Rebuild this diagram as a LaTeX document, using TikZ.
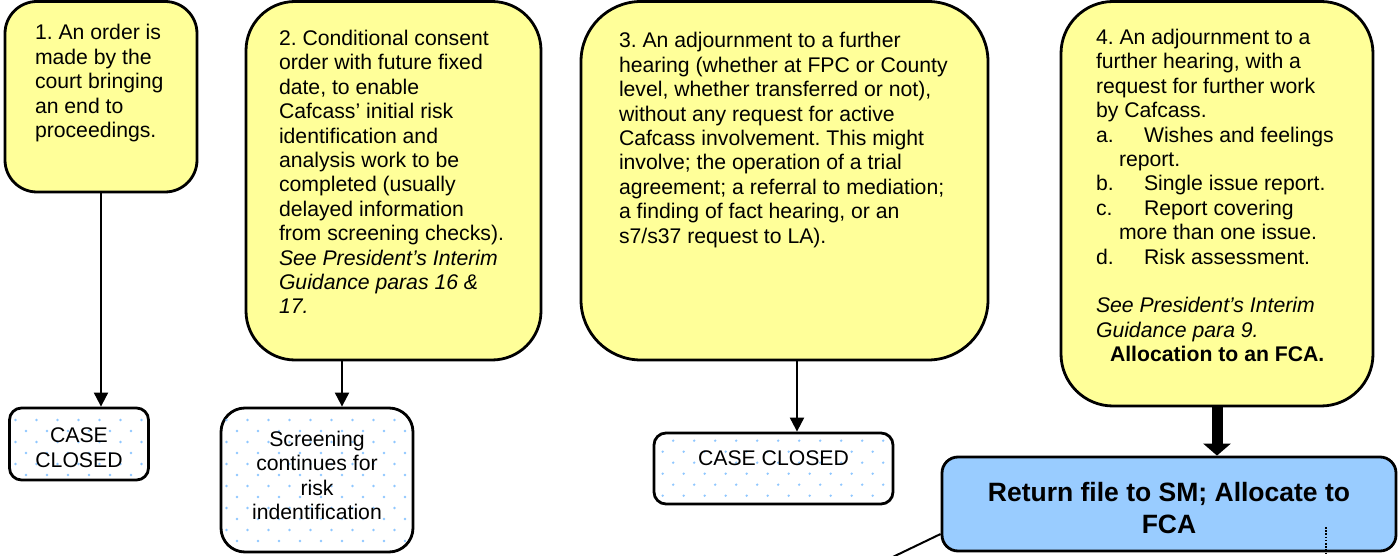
\documentclass[tikz,border=0pt]{standalone}
\usepackage{fontspec}
\setmainfont{Liberation Sans}
\usetikzlibrary{arrows.meta}
\frenchspacing
\definecolor{boxyellow}{HTML}{FFFF99}
\definecolor{boxblue}{HTML}{99CCFF}
\definecolor{dotblue}{HTML}{8FC7FF}
\newcommand\bodyfont{\fontsize{21.2}{24.4}\selectfont}
\newcommand\bluefont{\fontsize{26.5}{32}\selectfont\bfseries}
\newcommand\mydotgrid[5]{%
  \begin{scope}
    \clip[rounded corners=9pt] ([shift={(4,-4)}]#1.south west) rectangle ([shift={(-4,4)}]#1.north east);
    \foreach \j in {0,...,#5} {
      \foreach \i in {0,...,#4} {
        \fill[dotblue] ({#2+21*\i+10.5*mod(\j,2)},{#3+11*\j}) circle (1.3pt);
      }
    }
  \end{scope}}
\tikzset{
  ybox/.style={draw, line width=2.8pt, fill=boxyellow, inner sep=0pt},
  wbox/.style={draw, line width=2.8pt, fill=white, inner sep=0pt},
  bbox/.style={draw, line width=2.8pt, fill=boxblue, inner sep=0pt},
  txt/.style={inner sep=0pt, outer sep=0pt, font=\bodyfont, align=left, anchor=north west},
  ctxt/.style={inner sep=0pt, outer sep=0pt, font=\bodyfont, align=center, anchor=north},
  btxt/.style={inner sep=0pt, outer sep=0pt, font=\bluefont, align=center, anchor=north},
  tharrow/.style={line width=2pt, -{Triangle[width=14pt,length=14pt]}},
  thkarrow/.style={line width=11pt, -{Triangle[width=27pt,length=12pt]}},
  plainline/.style={line width=2pt},
  dotline/.style={line width=1.6pt, dash pattern=on 1.6pt off 1.6pt}
}
\begin{document}
\begin{tikzpicture}[x=1pt,y=-1pt]
\useasboundingbox (0,0) rectangle (1398,556);
\clip (0,0) rectangle (1398,556);
\fill[white] (0,0) rectangle (1398,556);

% yellow boxes
\node[ybox, minimum width=192pt, minimum height=190.5pt, rounded corners=32pt] (b1) at (101,96.75) {};
\node[ybox, minimum width=295pt, minimum height=358.5pt, rounded corners=49pt] (b2) at (393.5,180.75) {};
\node[ybox, minimum width=407pt, minimum height=358.5pt, rounded corners=60pt] (b3) at (784.5,180.75) {};
\node[ybox, minimum width=312pt, minimum height=404.5pt, rounded corners=52pt] (b4) at (1217,203.75) {};

% lower boxes
\node[wbox, minimum width=139pt, minimum height=72pt, rounded corners=12pt] (cc1) at (79,444) {};
\mydotgrid{cc1}{5}{409}{8}{7}
\node[wbox, minimum width=192pt, minimum height=144pt, rounded corners=24pt] (scr) at (317,480) {};
\mydotgrid{scr}{216}{409}{10}{13}
\node[wbox, minimum width=239pt, minimum height=71pt, rounded corners=12pt] (cc3) at (773.5,468.5) {};
\mydotgrid{cc3}{641.7}{429.7}{13}{7}
\node[bbox, minimum width=454pt, minimum height=94pt, rounded corners=16pt] (blue) at (1169,504) {};

% texts
\node[txt] (t1) at (35,22.9) {\strut 1. An order is\\made by the\\court bringing\\an end to\\proceedings.};
\node[txt] (t2) at (279,28.4) {\strut 2. Conditional consent\\order with future fixed\\date, to enable\\Cafcass’ initial risk\\identification and\\analysis work to be\\completed (usually\\delayed information\\from screening checks).\\\textit{See President’s Interim}\\\textit{Guidance paras 16 \&}\\\textit{17.}};
\node[txt] (t3) at (619,30.9) {\strut 3. An adjournment to a further\\hearing (whether at FPC or County\\level, whether transferred or not),\\without any request for active\\Cafcass involvement. This might\\involve; the operation of a trial\\agreement; a referral to mediation;\\a finding of fact hearing, or an\\s7/s37 request to LA).};
\node[txt] (t4) at (1096,27.4) {\strut 4. An adjournment to a\\further hearing, with a\\request for further work\\by Cafcass.\\\makebox[48pt][l]{a.}Wishes and feelings\\\hspace*{23pt}report.\\\makebox[48pt][l]{b.}Single issue report.\\\makebox[48pt][l]{c.}Report covering\\\hspace*{23pt}more than one issue.\\\makebox[48pt][l]{d.}Risk assessment.\\\mbox{}\\\textit{See President’s Interim}\\\textit{Guidance para 9.}\\\hspace*{14pt}\textbf{Allocation to an FCA.}};

\node[ctxt] (tc1) at (79,425.9) {\strut CASE\\CLOSED};
\node[ctxt] (tscr) at (317,429.4) {\strut Screening\\continues for\\risk\\indentification};
\node[ctxt] (tc3) at (773.5,448.9) {\strut CASE CLOSED};
\node[btxt] (tblue) at (1169,478.6) {\strut Return file to SM; Allocate to\\FCA};

% connectors
\coordinate (a2) at (342,0);
\coordinate (a3) at (797,0);
\draw[tharrow] (b1.south) -- (b1.south |- cc1.north);
\draw[tharrow] (b2.south -| a2) -- (scr.north -| a2);
\draw[tharrow] (b3.south -| a3) -- (cc3.north -| a3);
\draw[thkarrow] (b4.south) -- (b4.south |- blue.north);

\coordinate (tail) at (874,566);
\draw[plainline] ([yshift=-30pt]blue.west) -- (tail);
\coordinate (dtop) at (1326,527);
\coordinate (dbot) at (1326,562);
\draw[dotline] (dtop) -- (dbot);
\end{tikzpicture}
\end{document}
